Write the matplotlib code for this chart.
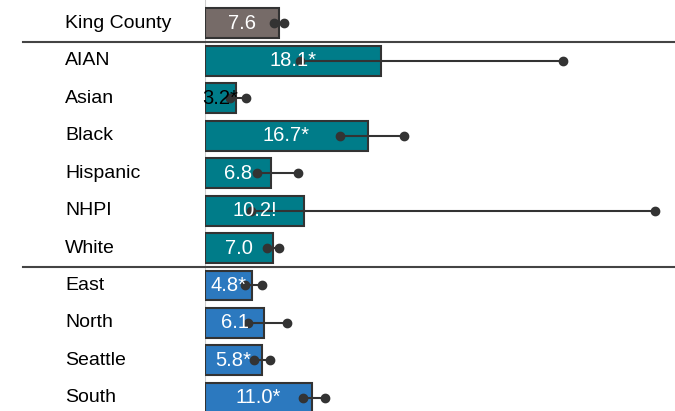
import matplotlib.pyplot as plt
from matplotlib.transforms import blended_transform_factory

plt.rcParams['font.family'] = ['Liberation Sans', 'DejaVu Sans']

# data
groups = ["King County", "AIAN", "Asian", "Black", "Hispanic", "NHPI", "White",
          "East", "North", "Seattle", "South"]
values = [7.6, 18.1, 3.2, 16.7, 6.8, 10.2, 7.0, 4.8, 6.1, 5.8, 11.0]
lower = [7.1, 9.7, 2.6, 13.8, 5.3, 4.7, 6.35, 4.1, 4.4, 5.0, 10.1]
upper = [8.1, 36.7, 4.2, 20.4, 9.5, 46.1, 7.6, 5.8, 8.4, 6.7, 12.3]
flags = ["", "*", "*", "*", "", "!", "", "*", "", "*", "*"]
kind = ["county", "race", "race", "race", "race", "race", "race",
        "region", "region", "region", "region"]

colors = {"county": "#766b68", "race": "#007c89", "region": "#2c79bf"}

fig = plt.figure(figsize=(6.75, 4.11), dpi=100)
ax = fig.add_axes([205 / 675, 0, 470 / 675, 1])

ypos = list(range(len(groups)))
ax.barh(ypos, values, height=0.8, color=[colors[k] for k in kind],
        edgecolor="#333333", linewidth=1.5, zorder=2)

# confidence intervals
for y, lo, hi in zip(ypos, lower, upper):
    ax.plot([lo, hi], [y, y], color="#333333", lw=1.5, marker="o",
            markersize=6, zorder=3)

# value labels in the middle of the bars
for y, v, f in zip(ypos, values, flags):
    txt_color = "black" if v < 4 else "white"
    ax.text(v / 2, y, f"{v:.1f}{f}", ha="center", va="center",
            color=txt_color, fontsize=14.5, zorder=4)

ax.axvline(0, color="#cccccc", lw=1.5, zorder=1)

ax.set_xlim(0, 48.2)
ax.set_ylim(10.35, -0.62)
ax.axis("off")

# row labels and group separators, in figure x / data y
tr = blended_transform_factory(fig.transFigure, ax.transData)
for y, g in zip(ypos, groups):
    ax.text(65 / 675, y, g, transform=tr, ha="left", va="center",
            fontsize=14, color="black", clip_on=False)
for sep in [0.5, 6.5]:
    ax.plot([23 / 675, 1], [sep, sep], transform=tr, color="#444444",
            lw=1.5, clip_on=False)

fig.savefig("out.png", dpi=100)
